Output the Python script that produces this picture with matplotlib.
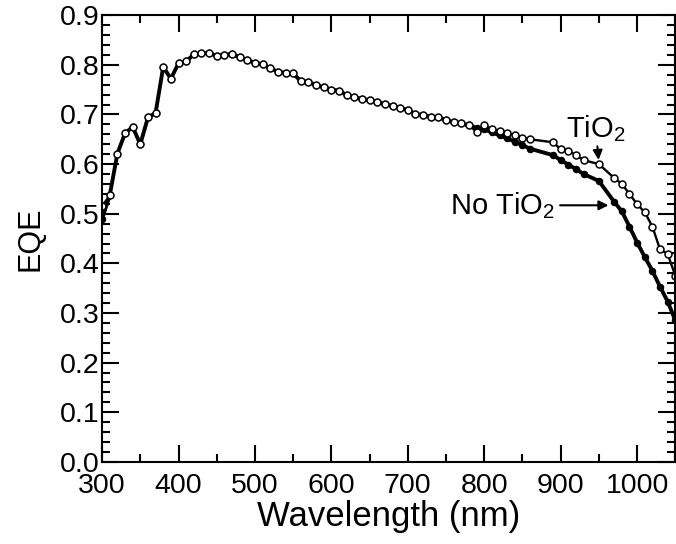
import numpy as np
import matplotlib
matplotlib.use("Agg")
import matplotlib.pyplot as plt
from matplotlib.ticker import MultipleLocator

plt.rcParams['font.family'] = ['Liberation Sans', 'DejaVu Sans']
plt.rcParams['mathtext.fontset'] = 'custom'
plt.rcParams['mathtext.rm'] = 'Liberation Sans'
plt.rcParams['mathtext.it'] = 'Liberation Sans'

# wavelength (nm), shared by both curves
wavelength = [300, 310, 320, 330, 340, 350, 360, 370, 380, 390,
              400, 410, 420, 430, 440, 450, 460, 470, 480, 490,
              500, 510, 520, 530, 540, 550, 560, 570, 580, 590,
              600, 610, 620, 630, 640, 650, 660, 670, 680, 690,
              700, 710, 720, 730, 740, 750, 760, 770, 780, 790,
              800, 810, 820, 830, 840, 850, 860, 890, 900, 910,
              920, 930, 950, 970, 980, 990, 1000, 1010, 1020, 1030,
              1040, 1050]

# EQE with TiO2 (open circles)
eqe_tio2 = [0.515, 0.537, 0.621, 0.662, 0.675, 0.640, 0.694, 0.703, 0.796, 0.772,
            0.803, 0.807, 0.821, 0.823, 0.824, 0.818, 0.820, 0.822, 0.815, 0.810,
            0.804, 0.801, 0.793, 0.786, 0.784, 0.783, 0.767, 0.766, 0.759, 0.755,
            0.750, 0.748, 0.739, 0.735, 0.731, 0.729, 0.725, 0.721, 0.717, 0.713,
            0.709, 0.701, 0.699, 0.695, 0.694, 0.689, 0.684, 0.682, 0.678, 0.665,
            0.678, 0.671, 0.666, 0.662, 0.659, 0.653, 0.650, 0.644, 0.630, 0.627,
            0.618, 0.608, 0.600, 0.572, 0.560, 0.540, 0.519, 0.503, 0.474, 0.428,
            0.419, 0.375]

# EQE without TiO2 (filled circles)
eqe_no_tio2 = [0.490, 0.537, 0.621, 0.662, 0.675, 0.640, 0.694, 0.703, 0.796, 0.772,
               0.803, 0.807, 0.821, 0.823, 0.824, 0.818, 0.820, 0.822, 0.815, 0.810,
               0.804, 0.801, 0.793, 0.786, 0.784, 0.783, 0.767, 0.766, 0.759, 0.755,
               0.750, 0.748, 0.739, 0.735, 0.731, 0.729, 0.725, 0.721, 0.717, 0.713,
               0.709, 0.701, 0.699, 0.695, 0.694, 0.689, 0.684, 0.682, 0.678, 0.673,
               0.670, 0.664, 0.658, 0.652, 0.645, 0.638, 0.631, 0.618, 0.608, 0.599,
               0.590, 0.580, 0.566, 0.524, 0.505, 0.474, 0.442, 0.413, 0.385, 0.353,
               0.323, 0.285]

fig = plt.figure(figsize=(6.76, 5.44), dpi=100)
ax = fig.add_axes([0.151, 0.151, 0.848, 0.821])

ax.plot(wavelength, eqe_no_tio2, '-o', color='black', lw=2.8,
        ms=4.4, mfc='black', mec='black')
ax.plot(wavelength, eqe_tio2, '-o', color='black', lw=1.7,
        ms=5.0, mfc='white', mec='black', mew=1.1)

ax.set_xlim(300, 1050)
ax.set_ylim(0.0, 0.9)
ax.xaxis.set_major_locator(MultipleLocator(100))
ax.xaxis.set_minor_locator(MultipleLocator(50))
ax.yaxis.set_major_locator(MultipleLocator(0.1))
ax.yaxis.set_minor_locator(MultipleLocator(0.02))
ax.yaxis.set_major_formatter(matplotlib.ticker.FormatStrFormatter('%.1f'))

ax.tick_params(which='both', direction='in', top=True, right=True, width=1.5)
ax.tick_params(which='major', length=12, labelsize=20.5)
ax.tick_params(axis='x', which='major', pad=8)
ax.tick_params(axis='y', which='major', pad=2)
ax.tick_params(which='minor', length=6)
for s in ax.spines.values():
    s.set_linewidth(1.5)

ax.set_xlabel('Wavelength (nm)', fontsize=25, labelpad=1)
ax.set_ylabel('EQE', fontsize=22, labelpad=10)

ax.annotate('TiO$_{2}$', xy=(950, 0.600), xytext=(946, 0.655),
            fontsize=21, ha='center', va='baseline',
            arrowprops=dict(arrowstyle='-|>', color='black', lw=1.5,
                            shrinkA=0, shrinkB=3, mutation_scale=14))
ax.annotate('No TiO$_{2}$', xy=(968, 0.517), xytext=(892, 0.517),
            fontsize=21, ha='right', va='center',
            arrowprops=dict(arrowstyle='-|>', color='black', lw=1.5,
                            shrinkA=2, shrinkB=3, mutation_scale=14))

plt.savefig('out.png', dpi=100)
